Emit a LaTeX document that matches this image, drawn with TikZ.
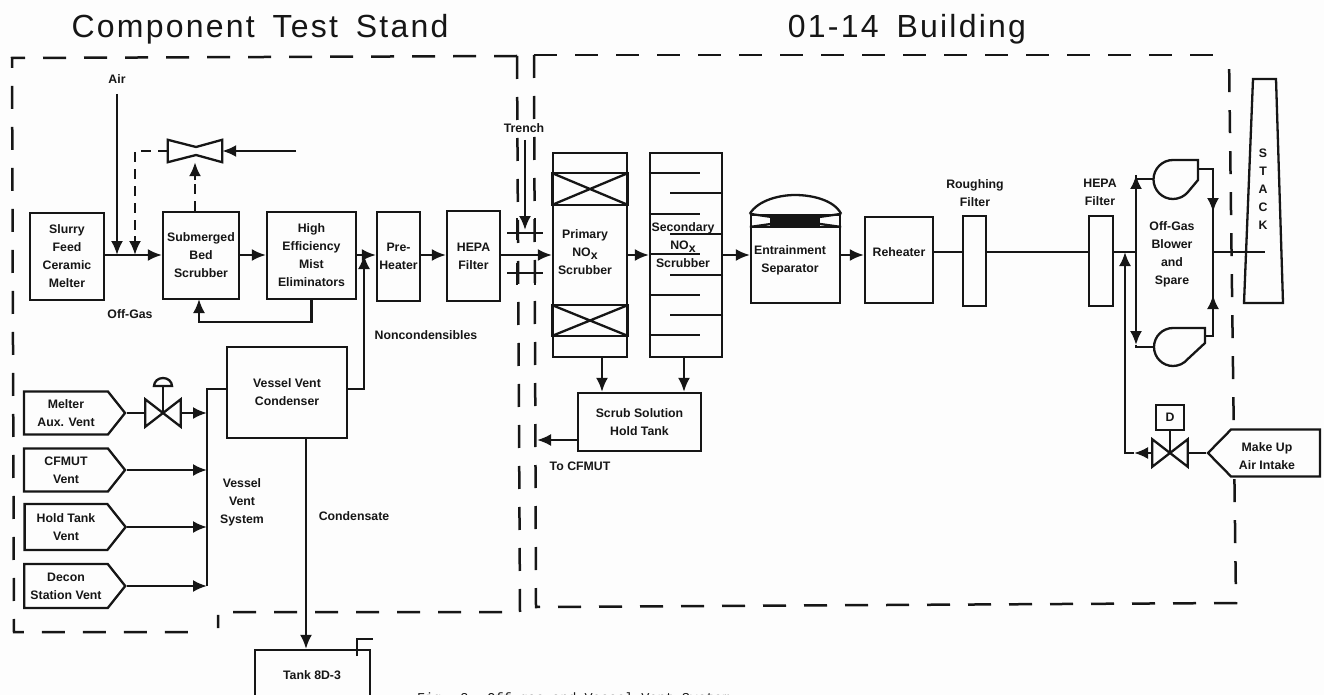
\documentclass[tikz,border=0pt]{standalone}
\usepackage{fontspec}
\setmainfont{Liberation Sans}
\newfontfamily\capfont{Liberation Mono}
\newfontfamily\headfont[LetterSpace=7,WordSpace=1.6]{Liberation Sans}
\usepackage{tikz}
\usetikzlibrary{arrows.meta,calc,shapes.symbols}
\definecolor{ScanInk}{RGB}{22,22,22}
\definecolor{ScanPaper}{RGB}{253,253,253}
\tikzset{
  pipe/.style={line width=2.3pt,draw=ScanInk},
  flow/.style={pipe,-{Latex[length=14pt,width=12pt]}},
  pipedash/.style={line width=2.5pt,draw=ScanInk,dash pattern=on 10pt off 7pt},
  wall/.style={line width=2.5pt,draw=ScanInk,dash pattern=on 23pt off 18pt},
  unitbox/.style={draw=ScanInk,line width=2.3pt,inner sep=0pt,align=center,font=\fontsize{12.3}{18}\selectfont\bfseries,text=ScanInk},
  ventbox/.style={unitbox,signal,signal to=east,signal pointer angle=103,minimum width=101pt,minimum height=43pt},
  lbl/.style={inner sep=0pt,align=center,font=\fontsize{12.3}{18}\selectfont\bfseries,text=ScanInk},
  headline/.style={inner sep=0pt,font=\headfont\fontsize{32}{33}\selectfont,text=ScanInk},
  valvebody/.style={inner sep=0pt,minimum width=35pt,minimum height=27pt},
}
\begin{document}
\begin{tikzpicture}[x=1pt,y=-1pt]
\useasboundingbox[fill=ScanPaper] (0,0) rectangle (1324,695);
\clip (0,0) rectangle (1324,695);
% titles
\node[headline] (ttlA) at (260,29){Component Test Stand};
\node[headline] (ttlB) at (907,29){01-14 Building};
\node[inner sep=0pt,anchor=base west,font=\capfont\fontsize{13.5}{14}\selectfont,text=ScanInk] (figcap) at (417,702){Fig. 3.  Off-gas and Vessel Vent System};
% building walls
\draw[wall] (517,56)--(520,612)--(218,612)--(218,628);
\draw[wall] (517,56)--(12,58)--(14,632)--(199,632);
\draw[wall] (534,55)--(536,607)--(1236,603)--(1229,55);
\draw[wall] (534,55)--(1229,55);
% off-gas train
\node[unitbox,minimum width=74pt,minimum height=87pt] (melter) at (67,256.5){Slurry\\Feed\\Ceramic\\Melter};
\node[unitbox,minimum width=76pt,minimum height=87pt] (sbs) at (201,255.5){Submerged\\Bed\\Scrubber};
\node[unitbox,minimum width=89pt,minimum height=87pt] (heme) at (311.5,255.5){High\\Efficiency\\Mist\\Eliminators};
\node[unitbox,minimum width=43pt,minimum height=89pt] (preht) at (398.5,256.5){Pre-\\Heater};
\node[unitbox,minimum width=53pt,minimum height=90pt] (hepaA) at (473.5,256){HEPA\\Filter};
\node[unitbox,minimum width=74pt,minimum height=204pt] (nox1) at (590,255){};
\node[unitbox,minimum width=72pt,minimum height=204pt] (nox2) at (686,255){};
\node[unitbox,minimum width=89pt,minimum height=88pt] (entr) at (795.5,259){};
\node[unitbox,minimum width=68pt,minimum height=86pt] (rehtr) at (899,260){};
\node[unitbox,minimum width=23pt,minimum height=90pt] (rough) at (974.5,261){};
\node[unitbox,minimum width=24pt,minimum height=90pt] (hepaB) at (1101,261){};
\node[unitbox,minimum width=123pt,minimum height=58pt] (scrub) at (639.5,422){Scrub Solution\\Hold Tank};
\node[unitbox,minimum width=120pt,minimum height=91pt] (vvc) at (287,392.5){Vessel Vent\\Condenser};
\node[unitbox,minimum width=115pt,minimum height=60pt] (tank) at (312.5,680){};
\node[lbl] (tanklbl) at (312,675){Tank 8D-3};
\node[lbl] (nox1lbl) at (585,252){Primary\\NO\raisebox{-3pt}{x}\\Scrubber};
\node[lbl] (nox2lbl) at (683,245){Secondary\\NO\raisebox{-3pt}{x}\\Scrubber};
\node[lbl] (entrlbl) at (790,260){Entrainment\\Separator};
\node[lbl] (rehtrlbl) at (899,252){Reheater};
\node[lbl] (roughlbl) at (975,193){Roughing\\Filter};
\node[lbl] (hepaBlbl) at (1100,192){HEPA\\Filter};
% vent sources
\node[ventbox] (vA) at (66,413){Melter\\Aux. Vent};
\node[ventbox] (vB) at (66,470){CFMUT\\Vent};
\node[ventbox,minimum height=46pt] (vC) at (66,527){Hold Tank\\Vent};
\node[ventbox,minimum height=44pt] (vD) at (66,586){Decon\\Station Vent};
\node[ventbox,signal to=west,signal pointer angle=91,minimum width=112pt,minimum height=47pt,fill=ScanPaper] (vE) at (1275.5,453){};
\node[lbl] (vElbl) at (1267,456){Make Up\\Air Intake};
% free ends and junctions
\coordinate (airIn) at (117,94);
\coordinate (airJn) at (117,255);
\coordinate (dashJn) at (135,255);
\coordinate (ejIn) at (296,151);
\coordinate (ncJn) at (364,255);
\coordinate (hdrT) at (207,389);
\coordinate (hdrB) at (207,586);
\coordinate (toCF) at (537,440);
\coordinate (trIn) at (525,140);
\coordinate (trJn) at (525,230);
\coordinate (mkJn) at (1125,252);
\coordinate (blwL) at (1136,252);
\coordinate (blwR) at (1213,252);
\coordinate (stkEnd) at (1265,252);
% main line
\draw[flow] (melter.east|-airJn)--(sbs.west|-airJn);
\draw[flow] (sbs.east|-airJn)--(heme.west|-airJn);
\draw[flow] (heme.east|-airJn)--(preht.west|-airJn);
\draw[flow] (preht.east|-airJn)--(hepaA.west|-airJn);
\draw[flow] (hepaA.east|-nox1)--(nox1.west);
\draw[flow] (nox1.east)--(nox2.west);
\draw[flow] (nox2.east)--(entr.west|-nox2);
\draw[flow] (entr.east|-nox2)--(rehtr.west|-nox2);
\draw[pipe] (rehtr.east|-mkJn)--(rough.west|-mkJn);
\draw[pipe] (rough.east|-mkJn)--(hepaB.west|-mkJn);
\draw[pipe] (hepaB.east|-mkJn)--(blwL);
\draw[pipe] (blwR)--(stkEnd);
% air and ejector
\draw[flow] (airIn)--(airJn);
\node[lbl] (airlbl) at (117,79){Air};
\node[valvebody,minimum width=54pt,minimum height=22pt] (ejct) at (195,151){};
\draw[pipe] (ejct.north west)--(196,147)--(ejct.north east)--(ejct.south east)--(196,155)--(ejct.south west)--cycle;
\draw[flow] (ejIn)--(ejct.east);
\draw[pipedash] (sbs.north-|ejct)--(ejct.south);
\draw[flow] (ejct.south|-0,180)--(ejct.south);
\draw[pipedash] (ejct.west)-|(dashJn);
\draw[flow] (135,236)--(dashJn);
% recycle
\draw[flow] (heme.south)|-(199,322)--(199,299);
\node[lbl] (offgas) at (130,314){Off-Gas};
% noncondensibles
\draw[flow] (vvc.east|-hdrT)-|(ncJn);
\node[lbl] (nclbl) at (426,335){Noncondensibles};
% vent header
\draw[pipe] (hdrB)--(hdrT)--(vvc.west|-hdrT);
\node[valvebody] (vlvA) at (163,413){};
\draw[pipe] (vlvA.north west)--(vlvA.south east)--(vlvA.north east)--(vlvA.south west)--cycle;
\draw[pipe] (vA.east)--(vlvA.west);
\draw[flow] (vlvA.east)--(hdrT|-vlvA);
\draw[pipe] (vlvA.center)--(163,385);
\draw[pipe] (154,386)--(172,386) arc (0:-180:9 and 8)--cycle;
\draw[flow] (vB.east)--(hdrT|-vB);
\draw[flow] (vC.east)--(hdrT|-vC);
\draw[flow] (vD.east)--(hdrB);
\node[lbl] (vvs) at (242,502){Vessel\\Vent\\System};
\draw[flow] (vvc.south-|306,0)--(tank.north-|306,0);
\node[lbl] (cond) at (354,516){Condensate};
\draw[pipe] (357,656)--(357,639)--(373,639);
% trench
\node[lbl] (trench) at (524,128){Trench};
\draw[flow] (trIn)--(trJn);
\foreach \yy/\ya/\yb in {233/218/240,273/263/285}{
  \draw[pipe] (507,\yy)--(543,\yy);
  \draw[pipe] (517,\ya)--(517,\yb);
  \draw[pipe] (535,\ya)--(535,\yb);
}
% scrubber internals
\draw[pipe] (nox1.west|-0,173) rectangle (nox1.east|-0,205);
\draw[pipe] (nox1.west|-0,173)--(nox1.east|-0,205) (nox1.west|-0,205)--(nox1.east|-0,173);
\draw[pipe] (nox1.west|-0,305) rectangle (nox1.east|-0,336);
\draw[pipe] (nox1.west|-0,305)--(nox1.east|-0,336) (nox1.west|-0,336)--(nox1.east|-0,305);
\foreach \yy in {173,214,254,295,335}{\draw[pipe] (nox2.west|-0,\yy)--(700,\yy);}
\foreach \yy in {193,234,275,315}{\draw[pipe] (nox2.east|-0,\yy)--(670,\yy);}
\draw[flow] (nox1.south-|602,0)--(scrub.north-|602,0);
\draw[flow] (nox2.south-|684,0)--(scrub.north-|684,0);
\draw[flow] (scrub.west|-toCF)--(toCF);
\node[lbl] (tocflbl) at (580,466){To CFMUT};
% separator head
\draw[pipe] (entr.north west) .. controls (758,200) and (780,195) .. (795,195) .. controls (812,195) and (834,200) .. (entr.north east);
\draw[pipe] (entr.west|-0,227)--(entr.east|-0,227);
\draw[pipe] (entr.north west)--(entr.east|-0,227) (entr.west|-0,227)--(entr.north east);
\fill[ScanInk] (770,215) rectangle (820,227);
% blowers
\node[circle,inner sep=0pt,minimum size=39pt] (blwA) at (1173,179){};
\node[circle,inner sep=0pt,minimum size=38pt] (blwB) at (1173,347){};
\draw[pipe] (1198,160)--(1173,160) arc (-90:-320:19.5) --(1198,180)--cycle;
\draw[pipe] (1205,328)--(1173,328) arc (-90:-320:19) --(1205,343)--cycle;
\draw[flow] (blwL)--(1136,175);
\draw[pipe] (1136,175)|-(blwA.west);
\draw[flow] (blwL)--(1136,345);
\draw[pipe] (1136,345)|-(blwB.west);
\draw[pipe] (1198,169)-|(blwR);
\draw[flow] (1213,169)--(1213,212);
\draw[pipe] (1205,336)-|(blwR);
\draw[flow] (1213,336)--(1213,295);
\node[lbl] (blwlbl) at (1172,254){Off-Gas\\Blower\\and\\Spare};
% stack
\draw[pipe] (1253,79)--(1276,79)--(1283,303)--(1244,303)--cycle;
\node[lbl,text width=12pt,font=\fontsize{12.3}{18}\selectfont\bfseries] (stk) at (1263,189){S\\T\\A\\C\\K};
% make up air
\node[valvebody] (vlvB) at (1170,453){};
\draw[pipe] (vlvB.north west)--(vlvB.south east)--(vlvB.north east)--(vlvB.south west)--cycle;
\node[unitbox,minimum width=28pt,minimum height=25pt] (dmpr) at (1170,417.5){D};
\draw[pipe] (dmpr.south)--(vlvB.center);
\draw[pipe] (vE.west)--(vlvB.east);
\draw[flow] (vlvB.west)--(1134,453);
\draw[flow] (1134,453)-|(mkJn);
\end{tikzpicture}
\end{document}
